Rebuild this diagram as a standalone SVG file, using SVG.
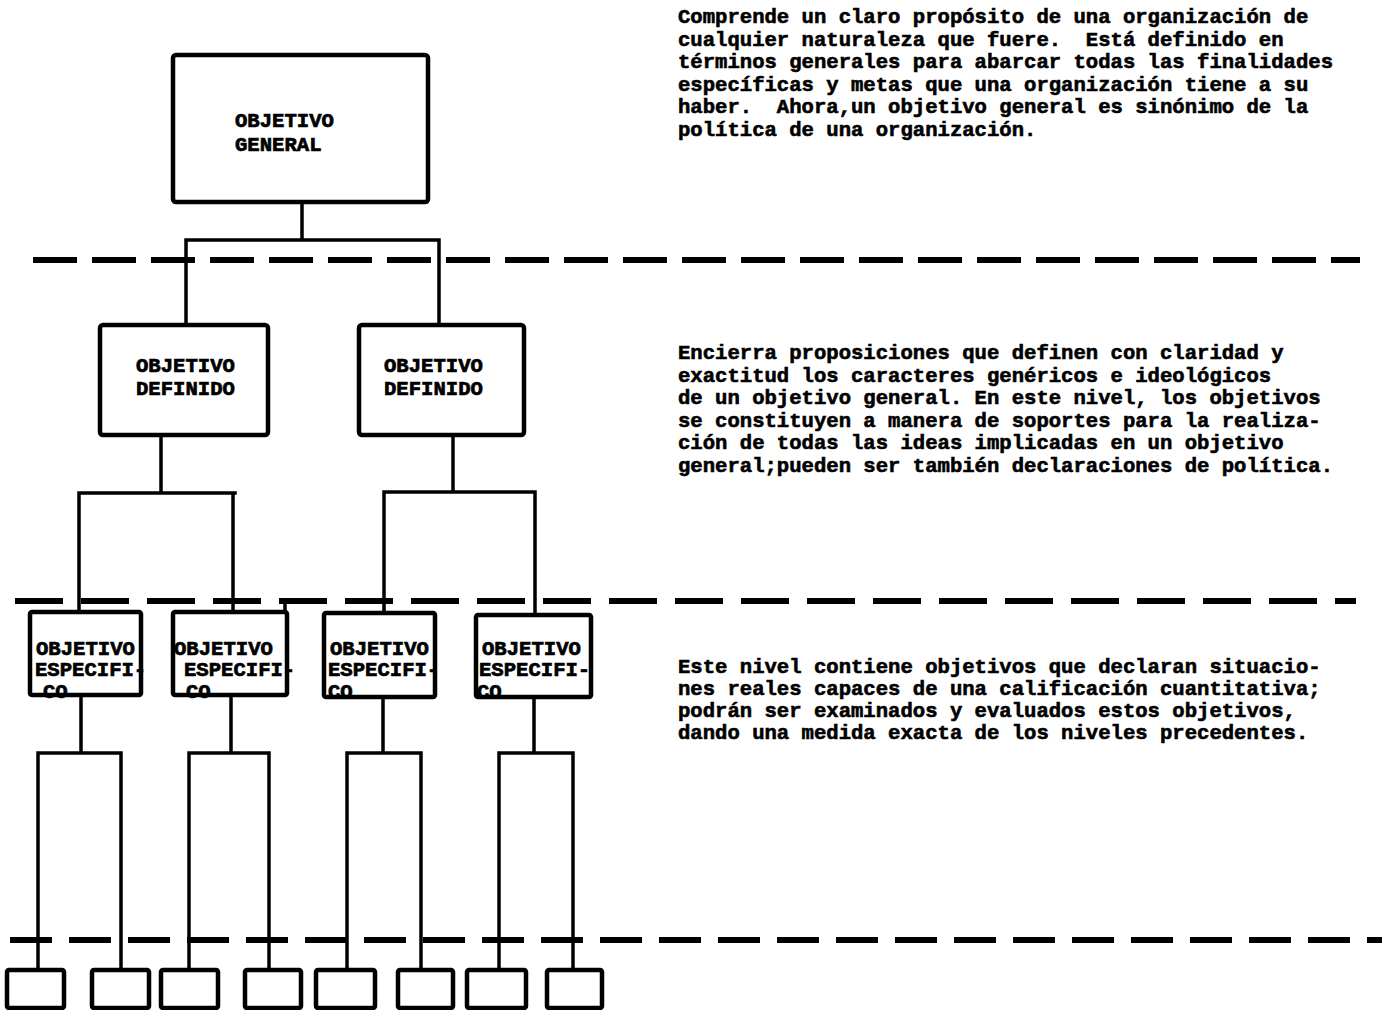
<svg xmlns="http://www.w3.org/2000/svg" width="1391" height="1010" viewBox="0 0 1391 1010">
<style>
  .box { fill: none; stroke: #000; stroke-width: 4.5; stroke-linejoin: round; }
  .leaf { fill: none; stroke: #000; stroke-width: 4.5; stroke-linejoin: round; }
  .conn { fill: none; stroke: #000; stroke-width: 3.5; stroke-linecap: square; stroke-linejoin: miter; }
  .dash { fill: none; stroke: #000; stroke-width: 6; }
  .lbl { font-family: "Liberation Mono", "DejaVu Sans Mono", monospace; font-weight: bold; font-size: 20.6px; fill: #000; stroke: #000; stroke-width: 0.7; }
  .para { font-family: "Liberation Mono", "DejaVu Sans Mono", monospace; font-weight: bold; font-size: 20.6px; fill: #000; stroke: #000; stroke-width: 0.6; }
</style>
<rect x="0" y="0" width="1391" height="1010" fill="#fff"/>

<!-- level separators -->
<g id="separators">
  <line class="dash" x1="33" y1="260" x2="1360" y2="260" stroke-dasharray="44 15"/>
  <line class="dash" x1="15" y1="601" x2="1356" y2="601" stroke-dasharray="48 18"/>
  <line class="dash" x1="10" y1="940" x2="1382" y2="940" stroke-dasharray="42 17"/>
</g>

<!-- connectors -->
<g id="connectors">
  <path class="conn" d="M302,202 V240 M186,240 H439 M186,240 V325 M439,240 V325"/>
  <path class="conn" d="M161,435 V493 M79,493 H235 M79,493 V612 M233,493 V612"/>
  <path class="conn" d="M453,435 V492 M384,492 H535 M384,492 V613 M535,492 V615"/>
  <path class="conn" d="M81,695 V753 M38,753 H121 M38,753 V970 M121,753 V970"/>
  <path class="conn" d="M231,695 V753 M189,753 H269 M189,753 V970 M269,753 V970"/>
  <path class="conn" d="M383,697 V753 M347,753 H421 M347,753 V970 M421,753 V970"/>
  <path class="conn" d="M534,697 V753 M499,753 H573 M499,753 V970 M573,753 V970"/>
</g>

<!-- level 1 -->
<g id="objetivo-general">
  <rect class="box" x="173" y="55" width="255" height="147" rx="3"/>
  <text class="lbl" x="235" y="127">OBJETIVO</text>
  <text class="lbl" x="235" y="151">GENERAL</text>
</g>

<!-- level 2 -->
<g id="objetivo-definido-1">
  <rect class="box" x="100" y="325" width="168" height="110" rx="3"/>
  <text class="lbl" x="136" y="372">OBJETIVO</text>
  <text class="lbl" x="136" y="395">DEFINIDO</text>
</g>
<g id="objetivo-definido-2">
  <rect class="box" x="359" y="325" width="165" height="110" rx="3"/>
  <text class="lbl" x="384" y="372">OBJETIVO</text>
  <text class="lbl" x="384" y="395">DEFINIDO</text>
</g>

<!-- level 3 -->
<g id="objetivo-especifico-1">
  <text class="lbl" x="36" y="655">OBJETIVO</text>
  <text class="lbl" x="35" y="676">ESPECIFI-</text>
  <text class="lbl" x="43" y="698">CO</text>
  <rect class="box" x="30" y="612" width="111" height="83" rx="2"/>
</g>
<g id="objetivo-especifico-2">
  <text class="lbl" x="174" y="655">OBJETIVO</text>
  <text class="lbl" x="184" y="676">ESPECIFI-</text>
  <text class="lbl" x="186" y="698">CO</text>
  <rect class="box" x="173" y="612" width="114" height="83" rx="2"/>
  <path class="conn" d="M285,601 V612"/>
</g>
<g id="objetivo-especifico-3">
  <text class="lbl" x="330" y="655">OBJETIVO</text>
  <text class="lbl" x="328" y="676">ESPECIFI-</text>
  <text class="lbl" x="328" y="698">CO</text>
  <rect class="box" x="324" y="613" width="111" height="84" rx="2"/>
</g>
<g id="objetivo-especifico-4">
  <text class="lbl" x="482" y="655">OBJETIVO</text>
  <text class="lbl" x="479" y="676">ESPECIFI-</text>
  <text class="lbl" x="477" y="698">CO</text>
  <rect class="box" x="476" y="615" width="115" height="82" rx="2"/>
</g>

<!-- level 4 -->
<g id="leaf-1"><rect class="leaf" x="7" y="970" width="57" height="38" rx="2"/></g>
<g id="leaf-2"><rect class="leaf" x="92" y="970" width="57" height="38" rx="2"/></g>
<g id="leaf-3"><rect class="leaf" x="161" y="970" width="57" height="38" rx="2"/></g>
<g id="leaf-4"><rect class="leaf" x="245" y="970" width="56" height="38" rx="2"/></g>
<g id="leaf-5"><rect class="leaf" x="316" y="970" width="59" height="38" rx="2"/></g>
<g id="leaf-6"><rect class="leaf" x="398" y="970" width="55" height="38" rx="2"/></g>
<g id="leaf-7"><rect class="leaf" x="467" y="970" width="59" height="38" rx="2"/></g>
<g id="leaf-8"><rect class="leaf" x="547" y="970" width="55" height="38" rx="2"/></g>

<!-- descriptions -->
<g id="desc-general">
  <text class="para" xml:space="preserve" x="678" y="23">Comprende un claro propósito de una organización de</text>
  <text class="para" xml:space="preserve" x="678" y="45.5">cualquier naturaleza que fuere.  Está definido en</text>
  <text class="para" xml:space="preserve" x="678" y="68">términos generales para abarcar todas las finalidades</text>
  <text class="para" xml:space="preserve" x="678" y="90.5">específicas y metas que una organización tiene a su</text>
  <text class="para" xml:space="preserve" x="678" y="113">haber.  Ahora,un objetivo general es sinónimo de la</text>
  <text class="para" xml:space="preserve" x="678" y="135.5">política de una organización.</text>
</g>
<g id="desc-definido">
  <text class="para" xml:space="preserve" x="678" y="359">Encierra proposiciones que definen con claridad y</text>
  <text class="para" xml:space="preserve" x="678" y="381.6">exactitud los caracteres genéricos e ideológicos</text>
  <text class="para" xml:space="preserve" x="678" y="404.2">de un objetivo general. En este nivel, los objetivos</text>
  <text class="para" xml:space="preserve" x="678" y="426.8">se constituyen a manera de soportes para la realiza-</text>
  <text class="para" xml:space="preserve" x="678" y="449.4">ción de todas las ideas implicadas en un objetivo</text>
  <text class="para" xml:space="preserve" x="678" y="472">general;pueden ser también declaraciones de política.</text>
</g>
<g id="desc-especifico">
  <text class="para" xml:space="preserve" x="678" y="673">Este nivel contiene objetivos que declaran situacio-</text>
  <text class="para" xml:space="preserve" x="678" y="695">nes reales capaces de una calificación cuantitativa;</text>
  <text class="para" xml:space="preserve" x="678" y="717">podrán ser examinados y evaluados estos objetivos,</text>
  <text class="para" xml:space="preserve" x="678" y="739">dando una medida exacta de los niveles precedentes.</text>
</g>
</svg>
